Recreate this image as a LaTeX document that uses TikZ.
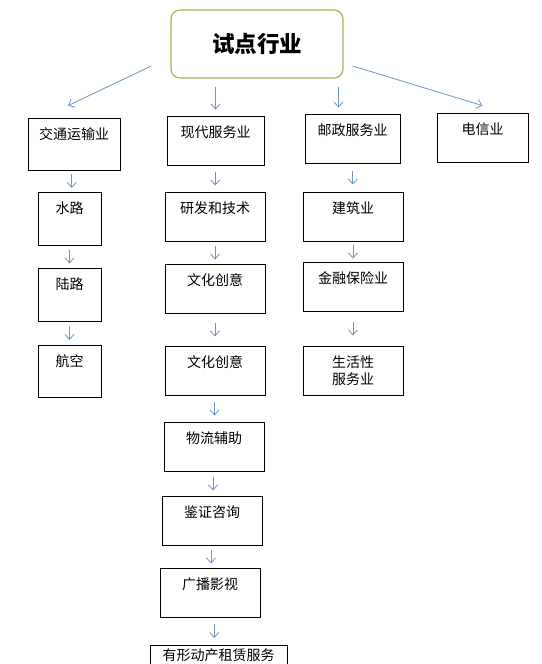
\documentclass[tikz,border=0pt]{standalone}
\usepackage{fontspec}
\newfontfamily\cjk{Noto Sans CJK SC}
\usetikzlibrary{arrows.meta,calc}
\definecolor{flecha}{HTML}{6F95C6}
\definecolor{verde}{HTML}{9BBB59}
\tikzset{
  caja/.style={draw=black, line width=0.8pt, inner sep=0pt},
  arriba/.style={anchor=north, inner sep=0pt, yshift=-10pt, font=\cjk\fontsize{14}{17}\selectfont, align=center},
  flechita/.style={draw=flecha, line width=0.8pt, -{Straight Barb[length=5pt,width=9pt]}}
}
\begin{document}
\begin{tikzpicture}[x=1pt,y=-1pt]
		
		% Marco
		\useasboundingbox (0,0) rectangle (541,664);
		\clip (0,0) rectangle (541,664);
		
		% Titulo
		\node[draw=verde, line width=1.2pt, rounded corners=9pt, minimum width=172pt, minimum height=68pt,
		      font=\cjk\bfseries\fontsize{22.5}{26}\selectfont] (top) at (257,44) {试点行业};
		
		% Primer nivel
		\node[caja, minimum width=92pt, minimum height=52pt, label={[arriba]north:交通运输业}] (jt) at (74,144) {};
		\node[caja, minimum width=97pt, minimum height=49pt, label={[arriba]north:现代服务业}] (xd) at (215.5,140.5) {};
		\node[caja, minimum width=95pt, minimum height=49pt, label={[arriba]north:邮政服务业}] (yz) at (352.5,138.5) {};
		\node[caja, minimum width=91pt, minimum height=49pt, label={[arriba]north:电信业}] (dx) at (482.5,137.5) {};
		
		% Transporte
		\node[caja, minimum width=63pt, minimum height=53pt, label={[arriba]north:水路}] (sl) at (69.5,218.5) {};
		\node[caja, minimum width=63pt, minimum height=53pt, label={[arriba]north:陆路}] (ll) at (69.5,294.5) {};
		\node[caja, minimum width=63pt, minimum height=52pt, label={[arriba]north:航空}] (hk) at (69.5,371) {};
		
		% Servicios modernos
		\node[caja, minimum width=100pt, minimum height=49pt, label={[arriba]north:研发和技术}] (yf) at (215,216.5) {};
		\node[caja, minimum width=100pt, minimum height=49pt, label={[arriba]north:文化创意}] (wha) at (215,288.5) {};
		\node[caja, minimum width=100pt, minimum height=49pt, label={[arriba]north:文化创意}] (whb) at (215,370.5) {};
		\node[caja, minimum width=100pt, minimum height=49pt, label={[arriba]north:物流辅助}] (wl) at (214,446.5) {};
		\node[caja, minimum width=100pt, minimum height=49pt, label={[arriba]north:鉴证咨询}] (jz) at (212,520.5) {};
		\node[caja, minimum width=100pt, minimum height=49pt, label={[arriba]north:广播影视}] (gb) at (210,592.5) {};
		\node[caja, minimum width=137pt, minimum height=55pt, label={[arriba, yshift=6pt]north:有形动产租赁服务}] (yx) at (218.5,672.5) {};
		
		% Correos
		\node[caja, minimum width=100pt, minimum height=49pt, label={[arriba]north:建筑业}] (jzy) at (353,216.5) {};
		\node[caja, minimum width=100pt, minimum height=49pt, label={[arriba]north:金融保险业}] (jr) at (353,286.5) {};
		\node[caja, minimum width=100pt, minimum height=49pt, label={[arriba]north:生活性\\服务业}] (sh) at (353,370.5) {};
		
		% Flechas del titulo
		\draw[flechita] ([shift={(-19,22)}]top.west) -- ([shift={(-6,-12)}]jt.north);
		\draw[flechita] ([yshift=-8pt]xd.north |- top.south) -- ([yshift=6pt]xd.north);
		\draw[flechita] ([xshift=-14pt,yshift=-8pt]yz.north |- top.south) -- ([xshift=-14pt,yshift=6pt]yz.north);
		\draw[flechita] ([shift={(9,22)}]top.east) -- ([shift={(0,-7)}]dx.north);
		
		% Flechas de las columnas
		\foreach \a/\b in {jt/sl, sl/ll, ll/hk, xd/yf, yf/wha, wha/whb, whb/wl, wl/jz, jz/gb, gb/yx, yz/jzy, jzy/jr, jr/sh}
		  \draw[flechita] ($(\a.south)!.5!(\b.north)+(0,-7)$) -- +(0,14);
		
	\end{tikzpicture}
\end{document}
